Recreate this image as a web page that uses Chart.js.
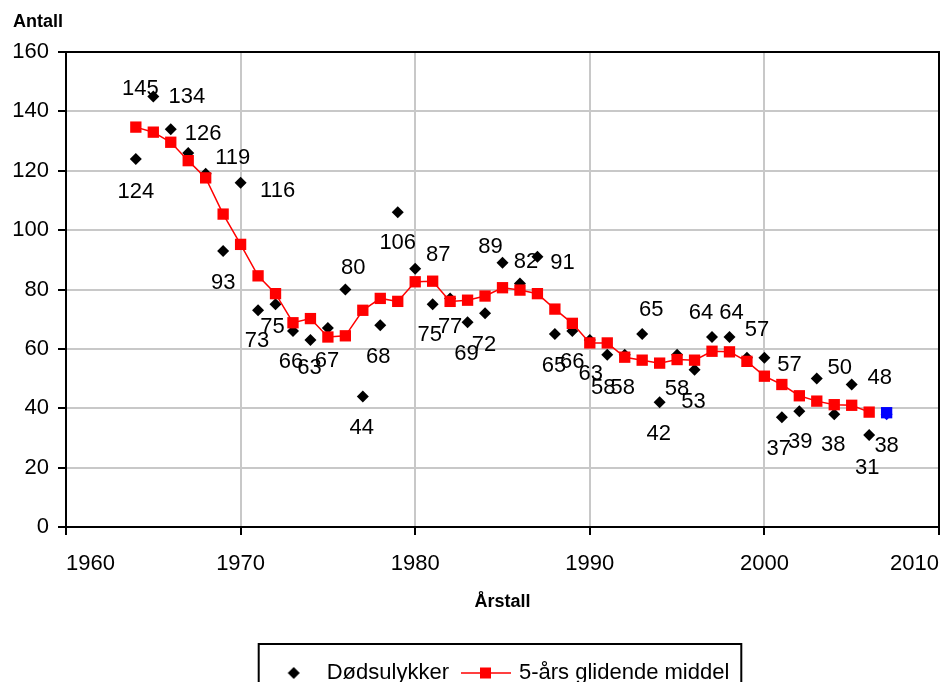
<!DOCTYPE html>
<html>
<head>
<meta charset="utf-8">
<script src="https://cdn.jsdelivr.net/npm/chart.js@4.4.1/dist/chart.umd.min.js"></script>
<style>
  html, body { margin: 0; padding: 0; background: #fff; overflow: hidden; }
  canvas { display: block; }
</style>
</head>
<body>
<canvas id="chart" width="941" height="694"></canvas>
<script>
const years = [
  1964, 1965, 1966, 1967, 1968, 1969, 1970, 1971, 1972, 1973,
  1974, 1975, 1976, 1977, 1978, 1979, 1980, 1981, 1982, 1983,
  1984, 1985, 1986, 1987, 1988, 1989, 1990, 1991, 1992, 1993,
  1994, 1995, 1996, 1997, 1998, 1999, 2000, 2001, 2002, 2003,
  2004, 2005, 2006, 2007
];
const deaths = [
  124, 145, 134, 126, 119, 93, 116, 73, 75, 66,
  63, 67, 80, 44, 68, 106, 87, 75, 77, 69,
  72, 89, 82, 91, 65, 66, 63, 58, 58, 65,
  42, 58, 53, 64, 64, 57, 57, 37, 39, 50,
  38, 48, 31, 38
];
const movingAvg = [
  134.7, 133.0, 129.6, 123.4, 117.6, 105.4, 95.2, 84.6, 78.6, 68.8,
  70.2, 64.0, 64.4, 73.0, 77.0, 76.0, 82.6, 82.8, 76.0, 76.4,
  77.8, 80.6, 79.8, 78.6, 73.4, 68.6, 62.0, 62.0, 57.2, 56.2,
  55.2, 56.4, 56.2, 59.2, 59.0, 55.8, 50.8, 48.0, 44.2, 42.4,
  41.2, 41.0, 38.7, 38.5
];
const xTicks = [1960, 1970, 1980, 1990, 2000, 2010];
const yTicks = [0, 20, 40, 60, 80, 100, 120, 140, 160];

// where each value label sits, pixel offset of the text centre from its point
const labelOffsets = [
  [0, 33], [-13, -8], [16, -32], [15, -19], [27, -16], [0, 32], [37, 8], [-1, 31], [-3, 23], [-2, 31],
  [-1, 28], [-1, 33], [8, -22], [-1, 32], [-2, 32], [0, 31], [23, -14], [-3, 31], [0, 29], [-1, 32],
  [-1, 32], [-12, -16], [6, -22], [25, 6], [-1, 32], [0, 31], [1, 34], [-4, 33], [-2, 33], [9, -24],
  [-1, 32], [0, 34], [-1, 32], [-11, -24], [2, -24], [10, -28], [25, 7], [-3, 32], [1, 31], [23, -11],
  [-1, 31], [28, -7], [-2, 33], [0, 32]
];

const FONT = '"Liberation Sans", Arial, sans-serif';
const last = years.length - 1;

function legendDiamond() {
  const c = document.createElement("canvas");
  c.width = 14; c.height = 14;
  const g = c.getContext("2d");
  g.fillStyle = "#000";
  g.beginPath();
  g.moveTo(7, 1); g.lineTo(13, 7); g.lineTo(7, 13); g.lineTo(1, 7);
  g.closePath(); g.fill();
  return c;
}

function legendLineSquare() {
  const c = document.createElement("canvas");
  c.width = 50; c.height = 14;
  const g = c.getContext("2d");
  g.strokeStyle = "#ff0000";
  g.lineWidth = 1.5;
  g.beginPath(); g.moveTo(0, 7); g.lineTo(50, 7); g.stroke();
  g.fillStyle = "#ff0000";
  g.fillRect(19, 1.5, 11, 11);
  return c;
}

const frame = {
  id: "frame",
  afterLayout(chart) {
    // legend sits centred under the plot area, not the whole canvas
    const lg = chart.legend;
    if (lg) { lg.left += 31; lg.right += 31; }
  },
  beforeDatasetsDraw(chart) {
    const { ctx, chartArea: a } = chart;
    ctx.save();
    ctx.strokeStyle = "#000";
    ctx.lineWidth = 2;
    ctx.strokeRect(a.left, a.top, a.right - a.left, a.bottom - a.top);
    ctx.restore();
  },
  afterDraw(chart) {
    const { ctx } = chart;
    ctx.save();
    ctx.fillStyle = "#000";
    ctx.font = "bold 18px " + FONT;
    ctx.textAlign = "left";
    ctx.textBaseline = "alphabetic";
    ctx.fillText("Antall", 13, 27);

    // box around the legend
    const hb = chart.legend.legendHitBoxes;
    if (hb && hb.length) {
      const left = hb[0].left - 13;
      const top = hb[0].top - 18;
      const right = hb[hb.length - 1].left + hb[hb.length - 1].width + 12;
      ctx.strokeStyle = "#000";
      ctx.lineWidth = 2;
      ctx.strokeRect(left, top, right - left, 100);
    }
    ctx.restore();
  }
};

const valueLabels = {
  id: "valueLabels",
  afterDatasetsDraw(chart) {
    const { ctx } = chart;
    const meta = chart.getDatasetMeta(0);
    ctx.save();
    ctx.fillStyle = "#000";
    ctx.font = "22px " + FONT;
    ctx.textAlign = "center";
    ctx.textBaseline = "middle";
    meta.data.forEach((pt, i) => {
      const [dx, dy] = labelOffsets[i];
      ctx.fillText(String(deaths[i]), pt.x + dx, pt.y + dy);
    });
    ctx.restore();
  }
};

const ctx = document.getElementById("chart").getContext("2d");

new Chart(ctx, {
  type: "line",
  data: {
    datasets: [
      {
        label: "Dødsulykker",
        data: years.map((y, i) => ({ x: y, y: deaths[i] })),
        showLine: false,
        pointStyle: "rectRot",
        pointRadius: 6,
        pointBorderWidth: 0,
        pointBackgroundColor: years.map((y, i) => (i === last ? "#0000ff" : "#000")),
        pointBorderColor: "transparent",
        order: 1
      },
      {
        label: "5-års glidende middel",
        data: years.map((y, i) => ({ x: y, y: movingAvg[i] })),
        borderColor: "#ff0000",
        borderWidth: 1.5,
        tension: 0,
        pointStyle: "rect",
        pointRadius: 8,
        pointBorderWidth: 0,
        pointBorderColor: "transparent",
        pointBackgroundColor: years.map((y, i) => (i === last ? "#0000ff" : "#ff0000")),
        segment: {
          borderColor: (s) => (s.p1DataIndex === last ? "transparent" : "#ff0000")
        },
        order: 0
      }
    ]
  },
  options: {
    responsive: false,
    animation: false,
    events: [],
    layout: { autoPadding: false, padding: { left: 0, right: 2, top: 52, bottom: 0 } },
    plugins: {
      tooltip: { enabled: false },
      legend: {
        position: "bottom",
        labels: {
          color: "#000",
          font: { size: 22, family: FONT },
          usePointStyle: true,
          pointStyleWidth: 44,
          padding: 15,
          generateLabels: () => [
            { text: "Dødsulykker", pointStyle: legendDiamond(), fillStyle: "#000", strokeStyle: "#000", lineWidth: 0, hidden: false, datasetIndex: 0, fontColor: "#000" },
            { text: "5-års glidende middel", pointStyle: legendLineSquare(), fillStyle: "#ff0000", strokeStyle: "#ff0000", lineWidth: 0, hidden: false, datasetIndex: 1, fontColor: "#000" }
          ]
        }
      }
    },
    scales: {
      x: {
        type: "linear",
        min: xTicks[0],
        max: xTicks[xTicks.length - 1],
        afterBuildTicks: (s) => { s.ticks = xTicks.map((v) => ({ value: v })); },
        afterFit: (s) => { s.height = 120; s.paddingLeft = 0; s.paddingRight = 0; },
        ticks: {
          color: "#000",
          font: { size: 22, family: FONT },
          padding: 16,
          align: "inner",
          maxRotation: 0,
          callback: (v) => String(v)
        },
        grid: { color: "#c8c8c8", lineWidth: 2, tickColor: "#000", tickWidth: 2, tickLength: 8 },
        border: { color: "#000", width: 2 },
        title: {
          display: true,
          text: "Årstall",
          color: "#000",
          font: { size: 18, weight: "bold", family: FONT },
          padding: { top: 0, bottom: 34 }
        }
      },
      y: {
        min: yTicks[0],
        max: yTicks[yTicks.length - 1],
        afterBuildTicks: (s) => { s.ticks = yTicks.map((v) => ({ value: v })); },
        afterFit: (s) => { s.width = 66; },
        ticks: {
          color: "#000",
          font: { size: 22, family: FONT },
          padding: 9,
          callback: (v) => String(v)
        },
        grid: { color: "#c8c8c8", lineWidth: 2, tickColor: "#000", tickWidth: 2, tickLength: 8 },
        border: { color: "#000", width: 2 }
      }
    }
  },
  plugins: [frame, valueLabels]
});
</script>
</body>
</html>
